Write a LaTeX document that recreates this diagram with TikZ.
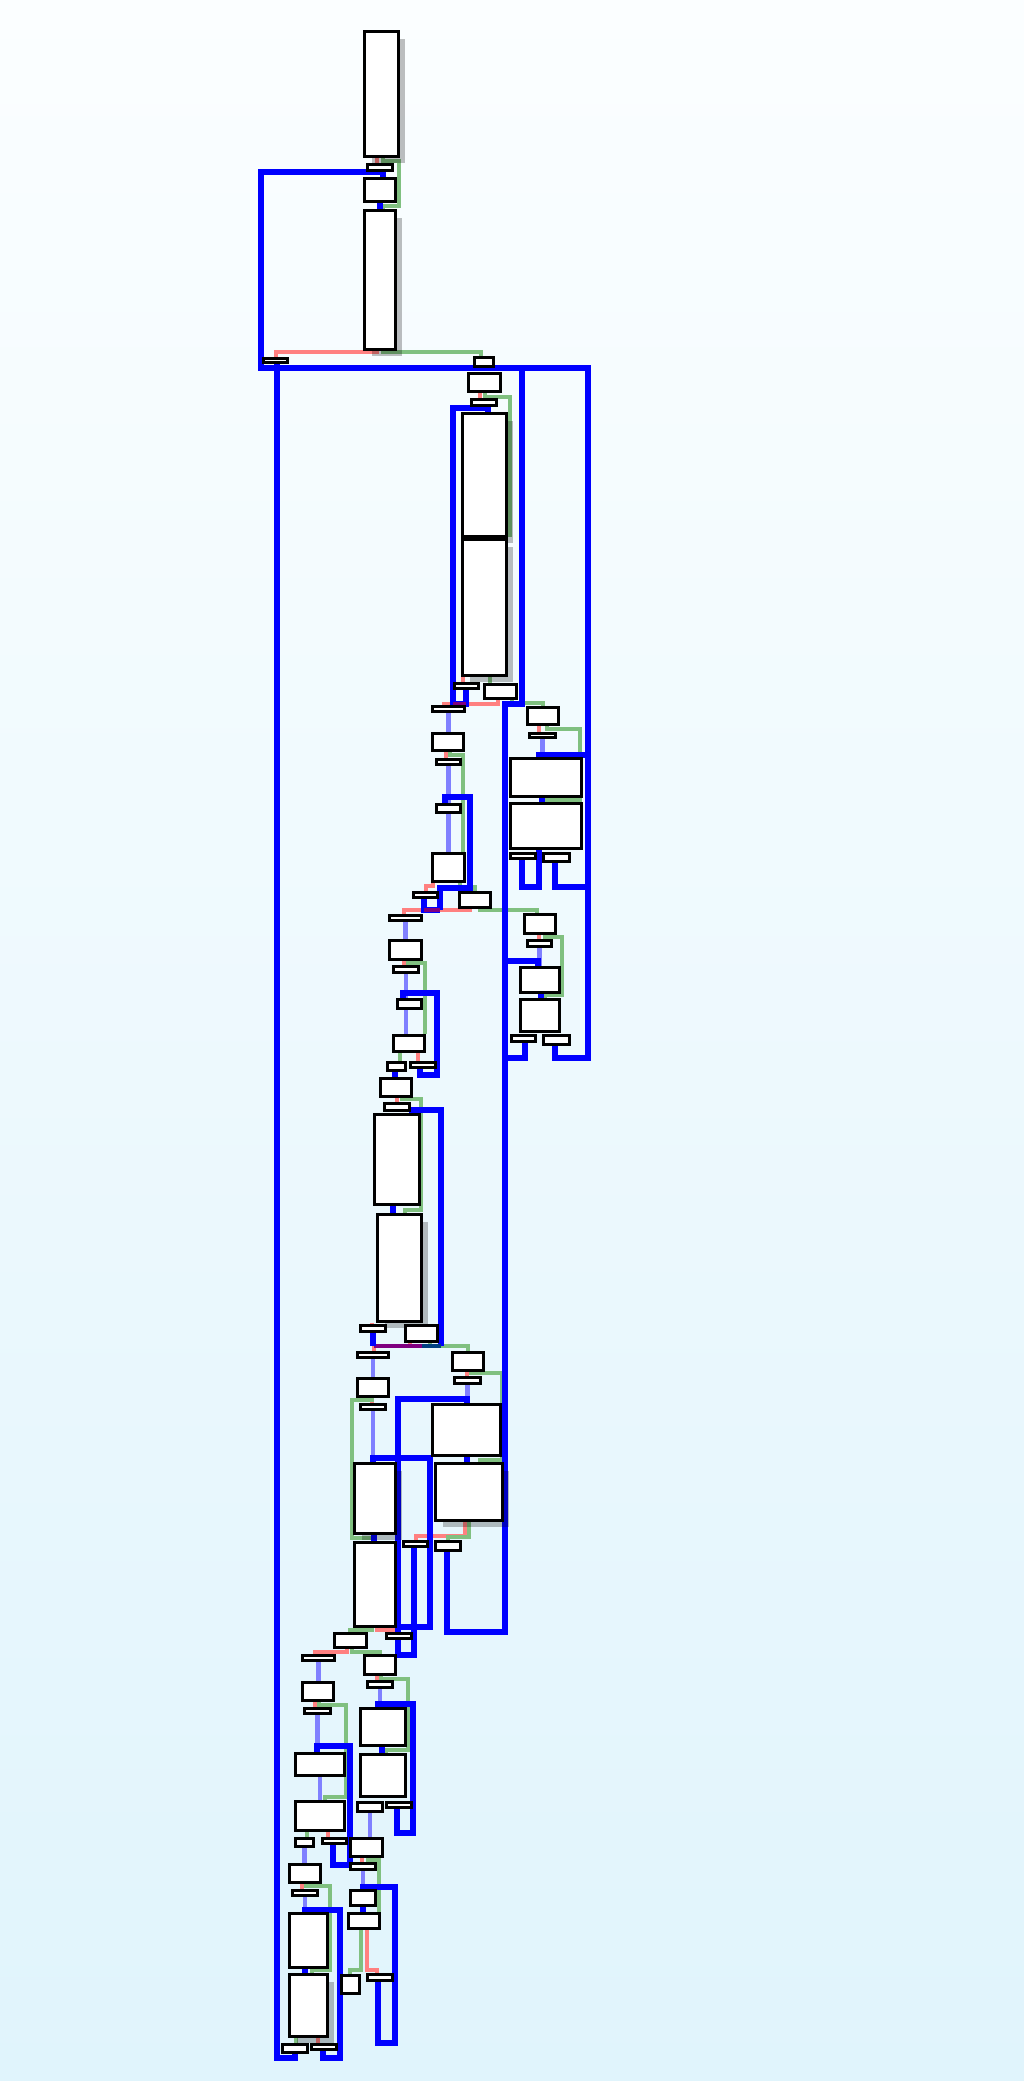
\documentclass[tikz,border=0pt]{standalone}
\usepackage{tikz}
\usetikzlibrary{backgrounds, shadows}
\definecolor{cfgblue}{HTML}{0000FF}
\definecolor{cfglight}{HTML}{8080FF}
\definecolor{cfggreen}{HTML}{80C080}
\definecolor{cfgred}{HTML}{FF8080}
\definecolor{cfgpurple}{HTML}{800080}
\definecolor{cfgnavy}{HTML}{004080}
\definecolor{cfgtop}{HTML}{FBFEFF}
\definecolor{cfgbot}{HTML}{E0F4FC}

% box from its outer corners (x1,y1) (x2,y2), in pixels
\newcommand{\cfgbox}[6][blk]{%
  \node[#1, minimum width={(#5-#3)*0.1mm-0.95pt},
        minimum height={(#6-#4)*0.1mm-0.95pt}]
    (#2) at ({(#3+#5)/2},{(#4+#6)/2}) {};}

\begin{document}
\begin{tikzpicture}[
    x=0.1mm, y=-0.1mm,
    blk/.style={draw=black, fill=white, line width=0.95pt,
                inner sep=0pt, outer sep=0pt},
    blks/.style={blk, drop shadow={shadow xshift=0.7mm,
                 shadow yshift=-0.7mm, fill=black, opacity=0.25}},
    eb/.style={draw=cfgblue, line width=1.7pt},
    el/.style={draw=cfglight, line width=1.4pt},
    eg/.style={draw=cfggreen, line width=1.4pt},
    er/.style={draw=cfgred, line width=1.4pt},
    ep/.style={draw=cfgpurple, line width=1.4pt},
    en/.style={draw=cfgnavy, line width=1.4pt}
  ]
  \useasboundingbox (0,0) rectangle (1024,2081);
  \begin{scope}[on background layer]
    \shade[top color=cfgtop, bottom color=cfgbot] (0,0) rectangle (1024,2081);
  \end{scope}

  % top chain
  \cfgbox[blks]{A}{363}{30}{400}{158}
  \cfgbox{a1}{366}{163}{394}{172}
  \cfgbox{B}{363}{177}{397}{203}
  \cfgbox[blks]{C}{363}{209}{397}{351}
  \cfgbox{L1}{262}{357}{289}{364}
  \cfgbox{R1}{473}{356}{495}{368}
  \cfgbox{D}{467}{372}{502}{393}
  \cfgbox{d1}{470}{398}{498}{407}
  \cfgbox[blks]{E}{461}{412}{508}{538}
  \cfgbox[blks]{F}{461}{538}{508}{677}
  \cfgbox{f1}{453}{682}{480}{690}
  \cfgbox{f2}{483}{683}{518}{700}
  % right cluster
  \cfgbox{H}{526}{706}{560}{726}
  \cfgbox{h1}{528}{732}{557}{739}
  \cfgbox{I}{509}{757}{583}{798}
  \cfgbox{J}{509}{802}{583}{850}
  \cfgbox{j1}{509}{852}{537}{860}
  \cfgbox{j2}{542}{852}{571}{863}
  \cfgbox{N}{523}{913}{557}{935}
  \cfgbox{n1}{526}{939}{553}{948}
  \cfgbox{O}{519}{966}{561}{994}
  \cfgbox{P}{519}{998}{561}{1033}
  \cfgbox{p1}{510}{1034}{537}{1043}
  \cfgbox{p2}{542}{1034}{571}{1046}
  % middle column
  \cfgbox{g}{431}{705}{466}{713}
  \cfgbox{K}{431}{732}{465}{752}
  \cfgbox{k2}{435}{758}{462}{766}
  \cfgbox{k3}{435}{803}{462}{814}
  \cfgbox{L}{431}{852}{466}{883}
  \cfgbox{l1}{412}{891}{439}{899}
  \cfgbox{l2}{458}{891}{492}{909}
  \cfgbox{m1}{388}{914}{423}{922}
  \cfgbox{M}{388}{939}{423}{961}
  \cfgbox{m2}{392}{965}{420}{974}
  \cfgbox{m3}{396}{998}{423}{1010}
  \cfgbox{Q}{392}{1034}{426}{1053}
  \cfgbox{q1}{386}{1061}{407}{1072}
  \cfgbox{q2}{409}{1061}{437}{1069}
  \cfgbox{R}{379}{1077}{413}{1098}
  \cfgbox{r1}{383}{1102}{411}{1112}
  \cfgbox{S}{373}{1113}{421}{1206}
  \cfgbox[blks]{T}{376}{1213}{423}{1323}
  \cfgbox{t1}{359}{1324}{387}{1333}
  \cfgbox{t2}{404}{1324}{439}{1343}
  \cfgbox{u1}{356}{1351}{390}{1359}
  \cfgbox{U}{451}{1351}{485}{1372}
  \cfgbox{u2}{453}{1376}{482}{1385}
  \cfgbox{V}{356}{1377}{390}{1398}
  \cfgbox{v1}{359}{1403}{387}{1411}
  \cfgbox{W}{431}{1403}{502}{1457}
  \cfgbox[blks]{X}{434}{1462}{504}{1522}
  \cfgbox[blks]{Y}{353}{1462}{397}{1535}
  \cfgbox{Z}{353}{1541}{397}{1628}
  \cfgbox{y1}{402}{1540}{429}{1548}
  \cfgbox{y2}{434}{1540}{462}{1552}
  % bottom
  \cfgbox{AA}{333}{1632}{368}{1649}
  \cfgbox{aa1}{385}{1632}{413}{1640}
  \cfgbox{BB}{301}{1654}{336}{1662}
  \cfgbox{CC}{363}{1654}{397}{1676}
  \cfgbox{cc1}{366}{1680}{394}{1689}
  \cfgbox{DD}{301}{1681}{335}{1702}
  \cfgbox{dd1}{303}{1707}{332}{1715}
  \cfgbox{EE}{359}{1707}{407}{1747}
  \cfgbox{FF}{359}{1753}{407}{1798}
  \cfgbox{ff1}{356}{1801}{384}{1813}
  \cfgbox{ff2}{385}{1801}{413}{1809}
  \cfgbox{GG}{294}{1752}{346}{1777}
  \cfgbox{HH}{294}{1800}{346}{1832}
  \cfgbox{hh1}{294}{1837}{315}{1848}
  \cfgbox{hh2}{321}{1837}{348}{1845}
  \cfgbox{II}{349}{1837}{384}{1858}
  \cfgbox{ii1}{349}{1862}{377}{1871}
  \cfgbox{JJ}{288}{1863}{322}{1884}
  \cfgbox{jj1}{291}{1889}{319}{1897}
  \cfgbox{KK}{349}{1889}{377}{1907}
  \cfgbox{LL}{347}{1912}{381}{1930}
  \cfgbox{MM}{288}{1912}{329}{1969}
  \cfgbox[blks]{NN}{288}{1973}{329}{2038}
  \cfgbox{OO}{340}{1974}{361}{1995}
  \cfgbox{oo1}{366}{1973}{394}{1982}
  \cfgbox{PP}{281}{2043}{309}{2054}
  \cfgbox{pp1}{310}{2043}{338}{2051}

  \begin{scope}[on background layer]
    % false / true / straight edges
    \draw[er] (377,158) -- (377,164);
    \draw[eg] (383,158) -- (383,161) -- (399,161) -- (399,206) -- (383,206) -- (383,209);
    \draw[er] (377,351) -- (377,352) -- (276,352) -- (276,357);
    \draw[eg] (383,351) -- (383,352) -- (481,352) -- (481,356);
    \draw[er] (480,393) -- (480,398);
    \draw[eg] (485,393) -- (485,397) -- (510,397) -- (510,535) -- (484,535) -- (484,538);
    \draw[er] (463,677) -- (463,682);
    \draw[eg] (490,677) -- (490,683);
    \draw[er] (498,700) -- (498,704) -- (444,704) -- (444,705);
    \draw[eg] (512,700) -- (512,703) -- (543,703) -- (543,706);
    \draw[er] (539,726) -- (539,732);
    \draw[eg] (547,726) -- (547,729) -- (580,729) -- (580,800) -- (547,800) -- (547,802);
    \draw[el] (h1.south) -- (h1.south |- I.north);
    \draw[er] (539,935) -- (539,939);
    \draw[eg] (545,935) -- (545,937) -- (562,937) -- (562,995) -- (545,995) -- (545,998);
    \draw[el] (n1.south) -- (n1.south |- O.north);
    \draw[el] (g.south) -- (g.south |- K.north);
    \draw[er] (446,752) -- (446,758);
    \draw[eg] (450,752) -- (450,755) -- (463,755) -- (463,852);
    \draw[el] (k2.south) -- (k2.south |- L.north);
    \draw[er] (433,883) -- (433,886) -- (426,886) -- (426,891);
    \draw[eg] (460,883) -- (460,887) -- (475,887) -- (475,891);
    \draw[er] (470,909) -- (470,910) -- (404,910) -- (404,914);
    \draw[eg] (480,909) -- (480,910) -- (537,910) -- (537,913);
    \draw[el] (m1.south) -- (m1.south |- M.north);
    \draw[er] (404,961) -- (404,965);
    \draw[eg] (408,961) -- (408,963) -- (425,963) -- (425,1034);
    \draw[el] (m2.south) -- (m2.south |- Q.north);
    \draw[eg] (400,1053) -- (400,1061);
    \draw[er] (418,1053) -- (418,1061);
    \draw[er] (397,1098) -- (397,1102);
    \draw[eg] (402,1098) -- (402,1099) -- (421,1099) -- (421,1210) -- (405,1210) -- (405,1213);
    \draw[er] (372,1323) -- (372,1324);
    \draw[er] (410,1343) -- (410,1346) -- (374,1346) -- (374,1351);
    \draw[eg] (430,1343) -- (430,1346) -- (468,1346) -- (468,1351);
    \draw[el] (u1.south) -- (u1.south |- V.north);
    \draw[er] (467,1372) -- (467,1376);
    \draw[eg] (471,1372) -- (471,1373) -- (502,1373) -- (502,1460) -- (480,1460) -- (480,1462);
    \draw[el] (u2.south) -- (u2.south |- W.north);
    \draw[er] (372,1398) -- (372,1403);
    \draw[eg] (372,1398) -- (372,1400) -- (352,1400) -- (352,1538) -- (375,1538) -- (375,1541);
    \draw[el] (v1.south) -- (v1.south |- Y.north);
    \draw[er] (465,1522) -- (465,1536) -- (416,1536) -- (416,1540);
    \draw[eg] (469,1522) -- (469,1537) -- (448,1537) -- (448,1540);
    \draw[eg] (372,1628) -- (372,1630) -- (350,1630) -- (350,1632);
    \draw[er] (377,1628) -- (377,1630) -- (399,1630) -- (399,1632);
    \draw[er] (347,1649) -- (347,1652) -- (315,1652) -- (315,1654);
    \draw[eg] (352,1649) -- (352,1652) -- (380,1652) -- (380,1654);
    \draw[el] (BB.south) -- (BB.south |- DD.north);
    \draw[er] (377,1676) -- (377,1680);
    \draw[eg] (381,1676) -- (381,1679) -- (408,1679) -- (408,1750) -- (386,1750) -- (386,1753);
    \draw[el] (cc1.south) -- (cc1.south |- EE.north);
    \draw[el] (ff1.south) -- (ff1.south |- II.north);
    \draw[er] (315,1702) -- (315,1707);
    \draw[eg] (319,1702) -- (319,1705) -- (346,1705) -- (346,1797) -- (325,1797) -- (325,1800);
    \draw[el] (dd1.south) -- (dd1.south |- GG.north);
    \draw[el] (GG.south) -- (GG.south |- HH.north);
    \draw[eg] (307,1832) -- (307,1837);
    \draw[er] (328,1832) -- (328,1837);
    \draw[el] (hh1.south) -- (hh1.south |- JJ.north);
    \draw[er] (302,1884) -- (302,1889);
    \draw[eg] (306,1884) -- (306,1886) -- (330,1886) -- (330,1970) -- (312,1970) -- (312,1973);
    \draw[el] (jj1.south) -- (jj1.south |- MM.north);
    \draw[eg] (296,2038) -- (296,2043);
    \draw[er] (318,2038) -- (318,2043);
    \draw[er] (362,1858) -- (362,1862);
    \draw[eg] (368,1858) -- (368,1860) -- (379,1860) -- (379,1912);
    \draw[el] (ii1.south) -- (ii1.south |- KK.north);
    \draw[eg] (361,1930) -- (361,1970) -- (350,1970) -- (350,1974);
    \draw[er] (367,1930) -- (367,1970) -- (377,1970) -- (377,1973);

    % unconditional jumps and loops
    \draw[eb] (383,177) -- (383,172) -- (261,172) -- (261,368) -- (588,368)
      -- (588,1058) -- (555,1058) -- (555,1046);
    \draw[eb] (B.south) -- (C.north);
    \draw[eb] (277,364) -- (277,2058) -- (295,2058) -- (295,2054);
    \draw[eb] (522,368) -- (522,704) -- (505,704) -- (505,1632) -- (447,1632) -- (447,1552);
    \draw[eb] (466,690) -- (466,704) -- (453,704) -- (453,408) -- (488,408) -- (488,412);
    \draw[ep] (453,704) -- (466,704);
    \draw[eb] (588,755) -- (539,755) -- (539,757);
    \draw[eb] (542,798) -- (542,802);
    \draw[eb] (522,860) -- (522,887) -- (539,887) -- (539,850);
    \draw[eb] (555,863) -- (555,887) -- (588,887);
    \draw[eb] (505,961) -- (538,961) -- (538,966);
    \draw[eb] (541,994) -- (541,998);
    \draw[eb] (525,1043) -- (525,1058) -- (505,1058);
    \draw[eb] (445,803) -- (445,797) -- (470,797) -- (470,888) -- (440,888) -- (440,910);
    \draw[eb] (424,899) -- (424,910) -- (440,910);
    \draw[ep] (424,910) -- (440,910);
    \draw[eb] (403,998) -- (403,993) -- (437,993) -- (437,1075) -- (420,1075) -- (420,1069);
    \draw[eb] (395,1072) -- (395,1077);
    \draw[eb] (412,1113) -- (412,1110) -- (441,1110) -- (441,1346);
    \draw[en] (422,1346) -- (441,1346);
    \draw[ep] (374,1346) -- (422,1346);
    \draw[eb] (393,1206) -- (393,1213);
    \draw[eb] (373,1333) -- (373,1346);
    \draw[eb] (467,1403) -- (467,1399) -- (398,1399) -- (398,1655) -- (414,1655) -- (414,1548);
    \draw[eb] (467,1457) -- (467,1462);
    \draw[eb] (373,1462) -- (373,1458) -- (430,1458) -- (430,1627) -- (398,1627);
    \draw[eb] (374,1535) -- (374,1541);
    \draw[eb] (378,1707) -- (378,1704) -- (413,1704) -- (413,1833) -- (397,1833) -- (397,1809);
    \draw[eb] (382,1747) -- (382,1753);
    \draw[eb] (317,1752) -- (317,1746) -- (350,1746) -- (350,1865) -- (333,1865) -- (333,1845);
    \draw[eb] (305,1912) -- (305,1910) -- (340,1910) -- (340,2058) -- (323,2058) -- (323,2051);
    \draw[eb] (305,1969) -- (305,1973);
    \draw[eb] (363,1907) -- (363,1912);
    \draw[eb] (378,1982) -- (378,2043) -- (395,2043) -- (395,1887) -- (363,1887) -- (363,1889);
  \end{scope}
\end{tikzpicture}
\end{document}
